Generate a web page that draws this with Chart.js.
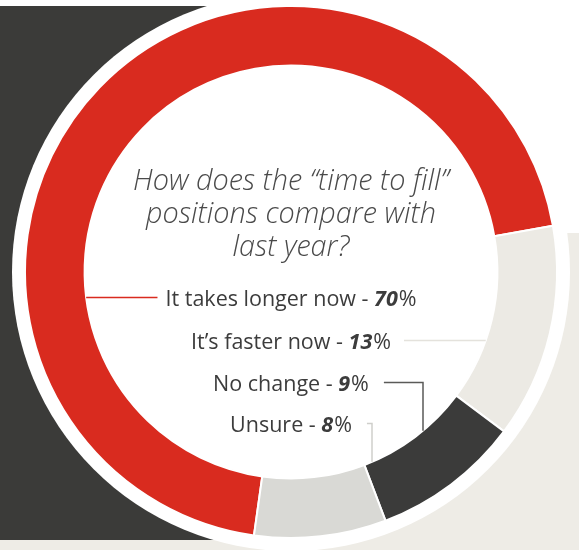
<!DOCTYPE html>
<html>
<head>
<meta charset="utf-8">
<script src="https://cdn.jsdelivr.net/npm/chart.js@4/dist/chart.umd.min.js"></script>
<style>
  html, body { margin: 0; padding: 0; background: #ffffff; }
  #wrap { position: relative; width: 579px; height: 550px; }
  canvas { display: block; }
</style>
</head>
<body>
<div id="wrap"><canvas id="chart" width="579" height="550"></canvas></div>
<script>
// Survey answers and their shares (percent)
const categories = ['It takes longer now', 'It\u2019s faster now', 'No change', 'Unsure'];
const shares = [70, 13, 9, 8];
const segmentColors = ['#D92B1F', '#ECEAE4', '#3B3B3A', '#D9D9D5'];
const leaderColors = ['#D92B1F', '#E4E2DC', '#5A5A58', '#CFCFCB'];
const questionLines = ['How does the \u201Ctime to fill\u201D', 'positions compare with', 'last year?'];

const TEXT_FONT = '"Open Sans", "Noto Sans", sans-serif';

// Page backdrop: dark panel on the left, warm grey band at the bottom right,
// and a white halo around the ring.
const backdropPlugin = {
  id: 'backdrop',
  beforeDraw(chart) {
    const ctx = chart.ctx;
    const arc = chart.getDatasetMeta(0).data[0];
    if (!arc) return;
    const cx = arc.x, cy = arc.y, ro = arc.outerRadius;
    ctx.save();
    ctx.fillStyle = '#ffffff';
    ctx.fillRect(0, 0, chart.width, chart.height);
    ctx.fillStyle = '#EEECE6';
    ctx.fillRect(0, 233, chart.width, chart.height - 233);
    ctx.fillStyle = '#3B3B39';
    ctx.fillRect(0, 6, cx, 534);
    ctx.beginPath();
    ctx.arc(cx, cy, ro + 13, 0, Math.PI * 2);
    ctx.fillStyle = '#ffffff';
    ctx.fill();
    ctx.restore();
  }
};

// Question in the middle, answer labels and leader lines to their segments
const centerTextPlugin = {
  id: 'centerText',
  afterDraw(chart) {
    const ctx = chart.ctx;
    const arc = chart.getDatasetMeta(0).data[0];
    if (!arc) return;
    const cx = arc.x, cy = arc.y, ri = arc.innerRadius;
    ctx.save();

    // question
    ctx.fillStyle = '#4A4A4A';
    ctx.font = 'italic 300 28.8px ' + TEXT_FONT;
    ctx.textAlign = 'center';
    ctx.textBaseline = 'alphabetic';
    const qBase = [-82, -49, -16];
    questionLines.forEach((line, i) => ctx.fillText(line, cx, cy + qBase[i]));

    // answers
    const regular = '21.5px ' + TEXT_FONT;
    const boldIt = 'italic bold 21.5px ' + TEXT_FONT;
    const baseOffsets = [33.5, 76.5, 118.5, 159.5];
    const kinds = ['left', 'right', 'elbow', 'elbow'];
    const elbowX = [0, 0, 132, 81];
    ctx.textAlign = 'left';
    categories.forEach((name, i) => {
      const a = name + ' - ';
      const b = String(shares[i]);
      const c = '%';
      ctx.font = regular; const wa = ctx.measureText(a).width; const wc = ctx.measureText(c).width;
      ctx.font = boldIt; const wb = ctx.measureText(b).width + 1;
      const total = wa + wb + wc;
      const x0 = cx - total / 2;
      const y = cy + baseOffsets[i];
      ctx.fillStyle = '#3C3C3C';
      ctx.font = regular; ctx.fillText(a, x0, y);
      ctx.font = boldIt; ctx.fillText(b, x0 + wa, y);
      ctx.font = regular; ctx.fillText(c, x0 + wa + wb, y);

      // leader line
      const ly = y - 8;
      const dy = ly - cy;
      ctx.strokeStyle = leaderColors[i];
      ctx.lineWidth = 1.5;
      ctx.beginPath();
      if (kinds[i] === 'left') {
        ctx.moveTo(x0 - 8, ly);
        ctx.lineTo(cx - Math.sqrt(ri * ri - dy * dy), ly);
      } else if (kinds[i] === 'right') {
        ctx.moveTo(x0 + total + 13, ly);
        ctx.lineTo(cx + Math.sqrt(ri * ri - dy * dy), ly);
      } else {
        const vx = cx + elbowX[i];
        ctx.moveTo(x0 + total + 15, ly);
        ctx.lineTo(vx, ly);
        ctx.lineTo(vx, cy + Math.sqrt(ri * ri - elbowX[i] * elbowX[i]));
      }
      ctx.stroke();
    });
    ctx.restore();
  }
};

new Chart(document.getElementById('chart'), {
  type: 'doughnut',
  data: {
    labels: categories,
    datasets: [{
      data: shares,
      backgroundColor: segmentColors,
      borderColor: '#ffffff',
      borderWidth: 2,
      hoverOffset: 0
    }]
  },
  options: {
    responsive: false,
    devicePixelRatio: 1,
    animation: false,
    rotation: 188,
    cutout: '77.6%',
    layout: { padding: { left: 24, right: 21, top: 5, bottom: 11 } },
    plugins: {
      legend: { display: false },
      tooltip: { enabled: false }
    }
  },
  plugins: [backdropPlugin, centerTextPlugin]
});
</script>
</body>
</html>
